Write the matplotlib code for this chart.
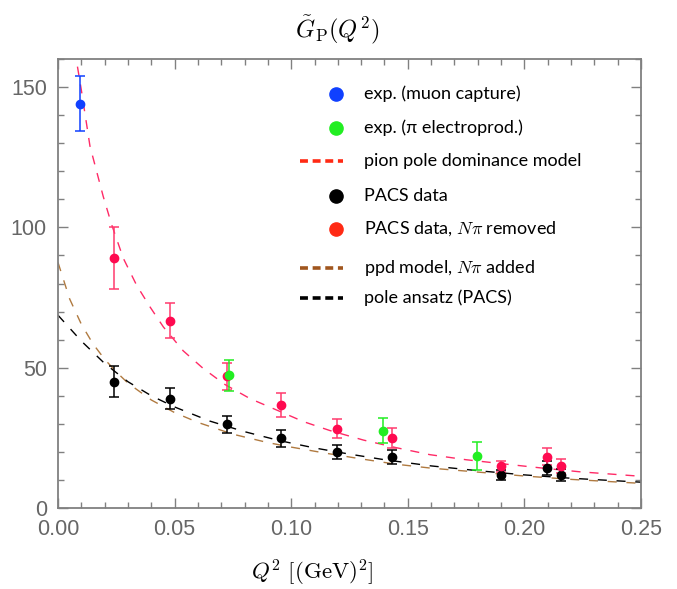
import matplotlib
matplotlib.use("Agg")
import matplotlib.pyplot as plt
from matplotlib.ticker import MultipleLocator

plt.rcParams['mathtext.fontset'] = 'cm'
plt.rcParams['font.family'] = ['Liberation Sans', 'DejaVu Sans']

# experimental points
q2_muon = [0.0094]
gp_muon = [144.0]
err_muon = [9.8]

q2_electro = [0.0732, 0.1395, 0.1795]
gp_electro = [47.3, 27.5, 18.5]
err_electro = [5.6, 4.5, 4.9]

# PACS lattice points
q2_pacs = [0.0240, 0.0480, 0.0723, 0.0955, 0.1195, 0.1433, 0.1898, 0.2098, 0.2157]
gp_pacs = [45.0, 39.0, 29.8, 24.8, 20.0, 18.3, 11.6, 14.3, 11.7]
err_pacs = [5.6, 3.7, 3.0, 3.0, 2.5, 2.5, 1.8, 2.4, 2.2]
gp_pacs_npi = [89.0, 66.7, 46.9, 36.7, 28.3, 25.0, 14.9, 18.3, 15.1]
err_pacs_npi = [11.0, 6.2, 4.7, 4.4, 3.3, 3.5, 2.0, 3.0, 2.5]

# curves
q2_ppd = [0.006, 0.0078, 0.010, 0.0137, 0.0194, 0.023, 0.028, 0.0337, 0.0395, 0.0452,
          0.0537, 0.0623, 0.0716, 0.0823, 0.0938, 0.1052, 0.1166, 0.131, 0.145, 0.1595,
          0.175, 0.1924, 0.208, 0.2238, 0.25]
gp_ppd = [170.0, 160.0, 149.0, 129.0, 111.0, 101.0, 89.0, 79.4, 71.6, 64.5,
          56.0, 49.7, 44.0, 39.0, 34.9, 30.8, 27.6, 24.2, 21.5, 19.0,
          17.2, 15.6, 14.2, 12.9, 11.3]

q2_ppd_npi = [0.0, 0.005, 0.010, 0.015, 0.020, 0.025, 0.030, 0.040, 0.050, 0.060, 0.075,
              0.090, 0.100, 0.115, 0.130, 0.145, 0.160, 0.180, 0.200, 0.220, 0.2453, 0.25]
gp_ppd_npi = [87.5, 74.5, 65.5, 58.5, 53.0, 48.5, 44.5, 38.5, 34.0, 30.5, 26.3,
              23.3, 21.7, 19.5, 17.5, 15.6, 14.2, 12.8, 11.4, 10.2, 9.0, 8.8]

q2_pole = [0.0, 0.010, 0.020, 0.030, 0.040, 0.050, 0.065, 0.080, 0.095, 0.110, 0.125,
           0.140, 0.160, 0.180, 0.200, 0.220, 0.250]
gp_pole = [68.7, 59.5, 51.5, 45.0, 40.0, 36.0, 31.0, 27.2, 24.0, 21.4, 19.2,
           17.2, 15.0, 13.3, 11.8, 10.6, 9.2]

legend_labels = ["exp. (muon capture)", "exp. (π electroprod.)", "pion pole dominance model",
                 "PACS data", r"PACS data, $N\pi$ removed", r"ppd model, $N\pi$ added",
                 "pole ansatz (PACS)"]

W, H = 677, 589
fig = plt.figure(figsize=(W / 100, H / 100), dpi=100)
ax = fig.add_axes([58 / W, 1 - 508 / H, (641 - 58) / W, (508 - 59) / H])

red_curve = "#ff2a66"
brown_curve = "#b07a40"

ax.plot(q2_ppd_npi, gp_ppd_npi, color=brown_curve, lw=1.0, dashes=(6.5, 7))
ax.plot(q2_pole, gp_pole, color="black", lw=1.0, dashes=(6.5, 7))
ax.plot(q2_ppd, gp_ppd, color=red_curve, lw=1.0, dashes=(6.5, 6.5))

eb = dict(fmt="o", ms=6, capsize=3.5, elinewidth=1.1, capthick=1.1)
ax.errorbar(q2_pacs, gp_pacs, yerr=err_pacs, color="black", **eb)
ax.errorbar(q2_pacs, gp_pacs_npi, yerr=err_pacs_npi, color="#ff0a50", ecolor="#ff3a6e", **eb)
ax.errorbar(q2_electro, gp_electro, yerr=err_electro, color="#22ee22", **eb)
ax.errorbar(q2_muon, gp_muon, yerr=err_muon, color="#1040ff", **eb)

ax.set_xlim(0, 0.25)
ax.set_ylim(0, 160)
ax.xaxis.set_major_locator(MultipleLocator(0.05))
ax.xaxis.set_minor_locator(MultipleLocator(0.01))
ax.yaxis.set_major_locator(MultipleLocator(50))
ax.yaxis.set_minor_locator(MultipleLocator(10))
ax.xaxis.set_major_formatter(matplotlib.ticker.FormatStrFormatter("%.2f"))
ax.tick_params(which="both", direction="in", top=True, right=True, color="#808080",
               labelcolor="#666666", labelsize=15.5, width=1.0)
ax.tick_params(which="major", length=7, pad=8)
ax.tick_params(which="minor", length=4)
for s in ax.spines.values():
    s.set_color("#808080")
    s.set_linewidth(1.3)

# legend placed by hand
def to_ax(px, py):
    return (px - 58) / (641 - 58), (508 - py) / (508 - 59)

rows_y = [94, 128, 161, 196, 229, 268, 298]
kinds = [("m", "#1040ff"), ("m", "#22ee22"), ("l", "#ff2a14"), ("m", "black"),
         ("m", "#ff2a14"), ("l", "#a0561e"), ("l", "black")]
for (kind, col), py, lab in zip(kinds, rows_y, legend_labels):
    if kind == "m":
        mx, my = to_ax(336, py)
        ax.plot([mx], [my], "o", ms=9.5, color=col, transform=ax.transAxes, clip_on=False)
    else:
        x0, my = to_ax(300, py)
        x1, _ = to_ax(343, py)
        ax.plot([x0, x1], [my, my], color=col, lw=2.6, dashes=(2.2, 1.3),
                transform=ax.transAxes, clip_on=False)
    tx, ty = to_ax(364, py)
    ax.text(tx, ty, lab, transform=ax.transAxes, va="center", ha="left",
            fontsize=13, family=["Lato", "DejaVu Sans"])

fig.text(337 / W, 1 - 30 / H, r"$\tilde{G}_{\mathrm{P}}(Q^2)$", ha="center", va="center",
         fontsize=17.5)
fig.text(312 / W, 1 - 573 / H, r"$Q^2\ [(\mathrm{GeV})^2]$", ha="center", va="center",
         fontsize=16.5)

fig.savefig("out.png", dpi=100)
